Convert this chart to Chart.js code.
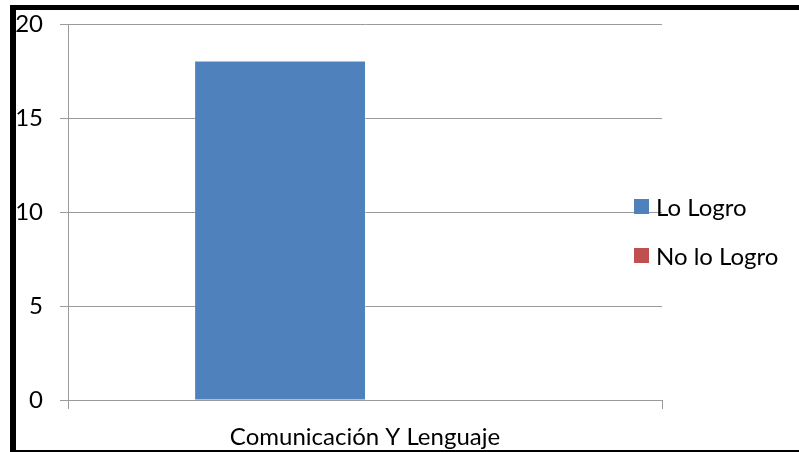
<!DOCTYPE html>
<html>
<head>
<meta charset="utf-8">
<script src="https://cdn.jsdelivr.net/npm/chart.js@4"></script>
<style>
    html, body { margin: 0; padding: 0; background: #fff; overflow: hidden; }
    #frame {
        position: absolute; left: 10px; top: 5px;
        width: 800px; height: 440px;
        border-left: 6px solid #000; border-top: 5px solid #000; border-bottom: 2px solid #000;
    }
    #wrap { position: absolute; left: 16px; top: 10px; width: 783px; height: 439px; }
    #legend { position: absolute; left: 634px; top: 192px; font-family: Lato, sans-serif; font-size: 24px; color: #000; }
    #legend .item { display: flex; align-items: center; height: 29px; margin-bottom: 20px; white-space: nowrap; }
    #legend .box { width: 15px; height: 15px; margin-right: 7px; }
</style>
</head>
<body>
<div id="frame"></div>
<div id="wrap"><canvas id="barChart"></canvas></div>
<div id="legend"></div>
<script>
const categories = ['Comunicación Y Lenguaje'];
const loLogro = [18];
const noLoLogro = [0];
const seriesNames = ['Lo Logro', 'No lo Logro'];
const yMin = 0, yMax = 20, yStep = 5;

const gridColor = '#9b9b9b';
let barChart;

function initBarChart() {
    const ctx = document.getElementById('barChart').getContext('2d');
    barChart = new Chart(ctx, {
        type: 'bar',
        data: {
            labels: categories,
            datasets: [{
                label: seriesNames[0],
                data: loLogro,
                backgroundColor: '#4f81bd'
            }, {
                label: seriesNames[1],
                data: noLoLogro,
                backgroundColor: '#c0504d'
            }]
        },
        options: {
            responsive: true,
            maintainAspectRatio: false,
            animation: false,
            categoryPercentage: 0.572,
            barPercentage: 1,
            layout: { padding: { left: 0, top: 14, right: 137, bottom: 0 } },
            plugins: { legend: { display: false }, tooltip: { enabled: false } },
            scales: {
                x: {
                    grid: { display: true, drawOnChartArea: false, drawTicks: true, tickLength: 9, color: gridColor, offset: true },
                    border: { color: gridColor },
                    ticks: { color: '#000', padding: 14, font: { family: 'Lato', size: 24 } },
                    afterFit: (s) => { s.height = 49; s.paddingLeft = 0; s.paddingRight = 0; }
                },
                y: {
                    min: yMin, max: yMax,
                    grid: { color: gridColor, tickLength: 8 },
                    border: { color: gridColor },
                    ticks: { stepSize: yStep, color: '#000', padding: 17, font: { family: 'Lato', size: 24 } },
                    afterFit: (s) => { s.width = 52; s.paddingTop = 0; s.paddingBottom = 0; }
                }
            }
        }
    });
}

function buildLegend() {
    const box = document.getElementById('legend');
    barChart.data.datasets.forEach(ds => {
        const item = document.createElement('div');
        item.className = 'item';
        const sw = document.createElement('span');
        sw.className = 'box';
        sw.style.background = ds.backgroundColor;
        item.appendChild(sw);
        item.appendChild(document.createTextNode(ds.label));
        box.appendChild(item);
    });
}

initBarChart();
buildLegend();
</script>
</body>
</html>
